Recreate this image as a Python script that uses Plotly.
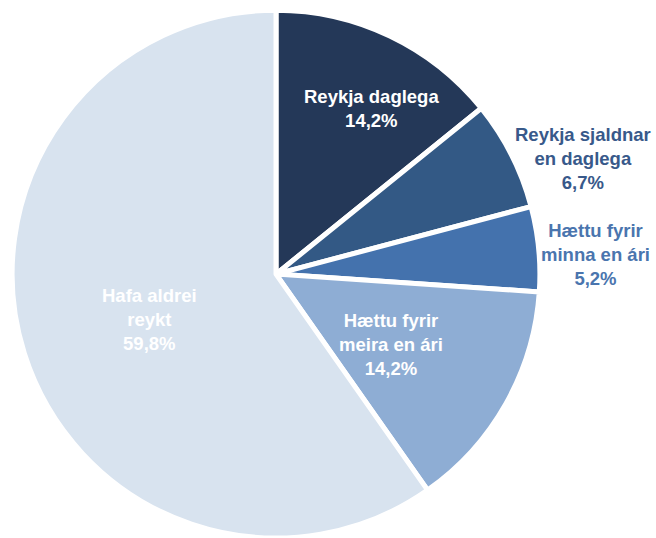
import math
import plotly.graph_objects as go

# ---- data ----
categories = ["Reykja daglega", "Reykja sjaldnar<br>en daglega", "Hættu fyrir<br>minna en ári",
              "Hættu fyrir<br>meira en ári", "Hafa aldrei<br>reykt"]
values = [14.2, 6.7, 5.2, 14.2, 59.8]
value_labels = ["14,2%", "6,7%", "5,2%", "14,2%", "59,8%"]

# ---- style ----
colors = ["#243858", "#335985", "#4472ad", "#8eadd4", "#d8e3ef"]
label_colors = ["#ffffff", "#38598a", "#4a75ae", "#ffffff", "#ffffff"]
label_radius = [0.724, 1.242, 1.214, 0.513, 0.51]     # fraction of pie radius
label_angle_shift = [4.4, 6.3, 1.9, 2.1, -2.4]        # degrees
FONT = "Liberation Sans, Arial, sans-serif"
W, H = 656, 538
dom_x = [0.0, 0.8415]
dom_y = [0.0, 0.981]

fig = go.Figure(go.Pie(
    values=values,
    labels=[c.replace("<br>", " ") for c in categories],
    textinfo="none",
    hoverinfo="skip",
    sort=False,
    direction="clockwise",
    rotation=0,
    marker=dict(colors=colors, line=dict(color="white", width=5)),
    domain=dict(x=dom_x, y=dom_y),
    showlegend=False,
))

# label placement derived from the pie geometry and slice mid-angles
cx = W * (dom_x[0] + dom_x[1]) / 2
cy = H * (1 - (dom_y[0] + dom_y[1]) / 2)
r = min(W * (dom_x[1] - dom_x[0]), H * (dom_y[1] - dom_y[0])) / 2
total = sum(values)
cum = 0.0
annotations = []
for i, v in enumerate(values):
    mid = (cum + v / 2) / total * 360 + label_angle_shift[i]
    cum += v
    a = math.radians(mid)
    px = cx + label_radius[i] * r * math.sin(a)
    py = cy - label_radius[i] * r * math.cos(a)
    annotations.append(dict(
        x=px / W, y=1 - py / H, xref="paper", yref="paper",
        text=f"{categories[i]}<br>{value_labels[i]}",
        showarrow=False, xanchor="center", yanchor="middle", align="center",
        font=dict(family=FONT, size=18.5, color=label_colors[i], weight="bold"),
    ))

fig.update_layout(
    width=W, height=H,
    margin=dict(l=0, r=0, t=0, b=0),
    paper_bgcolor="white", plot_bgcolor="white",
    annotations=annotations,
)
fig.write_html(
    "out.html",
    config={"displayModeBar": False},
    post_script="document.body.style.margin='0px';document.body.style.overflow='hidden';",
)
